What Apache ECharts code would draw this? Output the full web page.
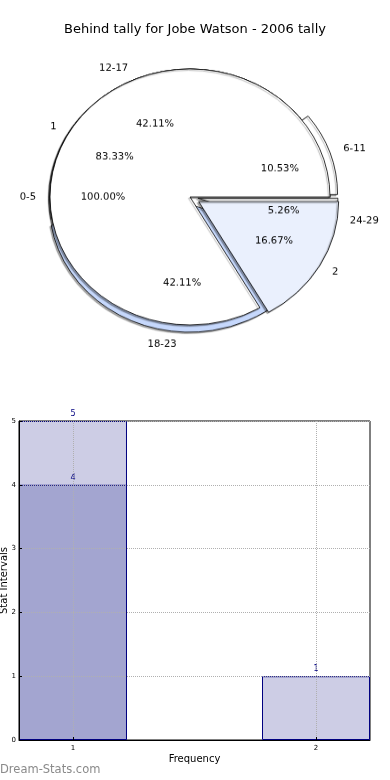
<!DOCTYPE html>
<html><head><meta charset="utf-8">
<script src="https://cdn.jsdelivr.net/npm/echarts@6/dist/echarts.min.js"></script>
<style>
html,body{margin:0;padding:0;background:#fff;}
#main{position:absolute;left:0;top:0;width:390px;height:780px;}
#pie{position:absolute;left:0;top:0;width:390px;height:400px;transform:scaleY(0.914);transform-origin:0 196px;}
</style></head><body>
<div id="main"></div><div id="pie"></div>
<script>
const titleText = 'Behind tally for Jobe Watson - 2006 tally';
// Pie A (all intervals)
const allNames = ['0-5'];
const allValues = [1];
const allColors = ['#ffffff'];
const allExploded = [false];
// Pie B (frequency)
const freqNames = ['1', '2'];
const freqValues = [5, 1];
const freqColors = ['#ffffff', '#eaf0fd'];
const freqExploded = [false, true];
// Pie C (stat intervals)
const intervalNames = ['6-11', '12-17', '18-23', '24-29'];
const intervalValues = [2, 8, 8, 1];
const intervalColors = ['#ffffff', '#ffffff', '#c6d8fc', '#ffffff'];
const intervalExploded = [true, false, true, true];
// Bar chart
const barX = [1, 2];
const barLight = [5, 1];
const barDark = [4, null];
const xTicks = [1, 2];
const yTicks = [0, 1, 2, 3, 4, 5];

const F = 'DejaVu Sans';
const CX = 190, CY = 197, R = 140;

function shapeSeries(names, values, colors, exploded, offset, z) {
  return {
    type: 'pie', center: [CX, CY], radius: [0, R], startAngle: 0, clockwise: false,
    selectedMode: 'multiple', selectedOffset: offset, z: z, silent: true,
    avoidLabelOverlap: false, label: { show: false }, labelLine: { show: false },
    itemStyle: { borderColor: '#000', borderWidth: 0.8, shadowColor: 'rgba(0,0,0,0.35)', shadowBlur: 1, shadowOffsetX: -1.5, shadowOffsetY: 1.5 },
    emphasis: { disabled: true },
    data: names.map((n, i) => ({ name: n, value: values[i], selected: exploded[i], itemStyle: { color: colors[i] } }))
  };
}
function nameSeries(names, values, exploded, offset) {
  return {
    type: 'pie', center: [CX, CY], radius: [0, R], startAngle: 0, clockwise: false,
    selectedMode: 'multiple', selectedOffset: offset, z: 20, silent: true,
    avoidLabelOverlap: false,
    itemStyle: { color: 'rgba(0,0,0,0)', borderWidth: 0 },
    label: { show: true, position: 'outside', formatter: '{b}', fontSize: 10, color: '#000', fontFamily: F,
      distanceToLabelLine: 0, bleedMargin: 0, overflow: 'none', alignTo: 'none' },
    labelLine: { show: false, length: R * 0.1, length2: 0 },
    emphasis: { disabled: true },
    data: names.map((n, i) => ({ name: n, value: values[i], selected: exploded[i] }))
  };
}
function pctSeries(names, values, exploded, offset) {
  const sum = values.reduce((a, b) => a + b, 0);
  return {
    type: 'pie', center: [CX, CY], radius: [R * 0.2, R], startAngle: 0, clockwise: false,
    selectedMode: 'multiple', selectedOffset: offset, z: 20, silent: true,
    avoidLabelOverlap: false,
    itemStyle: { color: 'rgba(0,0,0,0)', borderWidth: 0 },
    label: { show: true, position: 'inside', formatter: p => (p.value / sum * 100).toFixed(2) + '%',
      fontSize: 10, color: '#000', fontFamily: F, overflow: 'none' },
    labelLine: { show: false },
    emphasis: { disabled: true },
    data: names.map((n, i) => ({ name: n, value: values[i], selected: exploded[i] }))
  };
}

const pie = echarts.init(document.getElementById('pie'));
pie.setOption({
  animation: false,
  series: [
    shapeSeries(allNames, allValues, allColors, allExploded, 0, 1),
    shapeSeries(intervalNames, intervalValues, intervalColors, intervalExploded, 8, 2),
    shapeSeries(freqNames, freqValues, freqColors, freqExploded, 10, 3),
    nameSeries(allNames, allValues, allExploded, 0),
    pctSeries(allNames, allValues, allExploded, 0),
    nameSeries(intervalNames, intervalValues, intervalExploded, 8),
    pctSeries(intervalNames, intervalValues, intervalExploded, 8),
    nameSeries(freqNames, freqValues, freqExploded, 10),
    pctSeries(freqNames, freqValues, freqExploded, 10)
  ]
});

const main = echarts.init(document.getElementById('main'));
const barLabel = { show: true, position: 'top', distance: 3, fontSize: 8, color: '#000080', fontFamily: F };
main.setOption({
  animation: false,
  title: { text: titleText, left: 'center', top: 18, textStyle: { fontSize: 13, fontWeight: 'normal', color: '#000', fontFamily: F } },
  grid: { left: 19, right: 20, top: 421, bottom: 40, show: true, borderColor: '#000', borderWidth: 1,
    backgroundColor: 'rgba(0,0,0,0)', containLabel: false, outerBoundsMode: 'none' },
  xAxis: {
    type: 'value', min: 0.7778, max: 2.2222, z: 10,
    name: 'Frequency', nameLocation: 'middle', nameGap: 14, nameMoveOverlap: false,
    nameTextStyle: { fontSize: 10, color: '#000', fontFamily: F },
    axisLine: { show: true, lineStyle: { color: '#000' } },
    axisTick: { show: true, inside: true, length: 3, customValues: xTicks, lineStyle: { color: '#000' } },
    axisLabel: { customValues: xTicks, fontSize: 7, color: '#000', margin: 5, fontFamily: F },
    splitLine: { show: false }
  },
  yAxis: {
    type: 'value', min: 0, max: 5, interval: 1, z: 10,
    name: 'Stat Intervals', nameLocation: 'middle', nameGap: 10, nameRotate: 90, nameMoveOverlap: false,
    nameTextStyle: { fontSize: 10, color: '#000', fontFamily: F },
    axisLine: { show: true, lineStyle: { color: '#000' } },
    axisTick: { show: true, inside: true, length: 3, lineStyle: { color: '#000' } },
    axisLabel: { fontSize: 7, color: '#000', margin: 3, fontFamily: F, customValues: yTicks },
    splitLine: { show: true, lineStyle: { type: 'dotted', color: '#b0b0b0', width: 1 } }
  },
  series: [
    { type: 'bar', data: barX.map((x, i) => [x, barLight[i]]).filter(d => d[1] != null), barWidth: 108, barGap: '-100%',
      itemStyle: { color: '#cdcde5', borderColor: '#000080', borderWidth: 1 }, label: barLabel, silent: true },
    { type: 'bar', data: barX.map((x, i) => [x, barDark[i]]).filter(d => d[1] != null), barWidth: 108, barGap: '-100%',
      itemStyle: { color: '#a3a5d0', borderColor: '#000080', borderWidth: 1 }, label: barLabel, silent: true,
      markLine: { silent: true, symbol: ['none', 'none'], label: { show: false },
        lineStyle: { type: 'dotted', color: '#b0b0b0', width: 1 }, data: xTicks.map(v => ({ xAxis: v })) } }
  ],
  graphic: [{ type: 'text', left: 0, top: 764, style: { text: 'Dream-Stats.com', fontSize: 11.5, fill: '#8a8a8a', fontFamily: F } }]
});
</script>
</body></html>
